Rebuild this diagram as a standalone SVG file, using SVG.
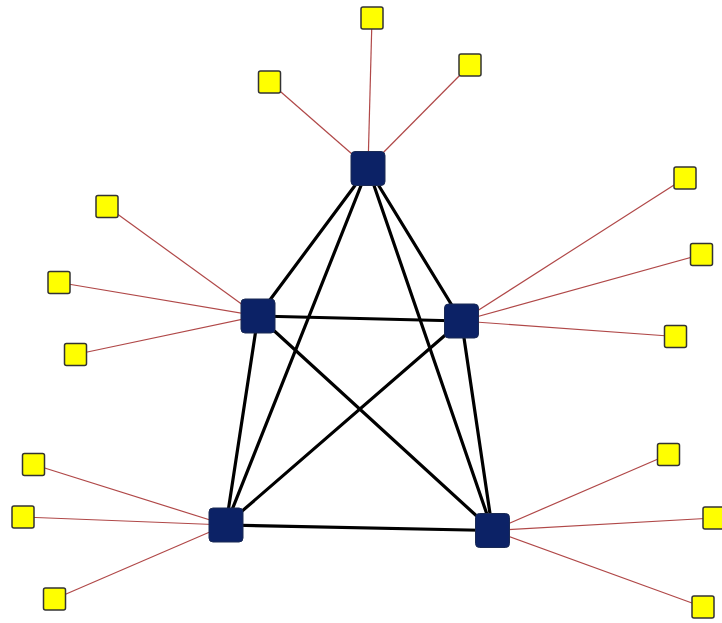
<svg xmlns="http://www.w3.org/2000/svg" width="722" height="623" viewBox="0 0 722 623">
<style>
.hub{fill:#0c2266;stroke:#1a2a55;stroke-width:1}
.leaf{fill:#ffff00;stroke:#333333;stroke-width:1.5}
.thick{stroke:#000000;stroke-width:3.2;fill:none;stroke-linecap:round}
.thin{stroke:#b04848;stroke-width:1.2;fill:none}
</style>
<rect width="722" height="623" fill="#ffffff"/>
<g id="connectors">
<line class="thin" x1="372" y1="18" x2="368" y2="168"/>
<line class="thin" x1="269.5" y1="82" x2="368" y2="168"/>
<line class="thin" x1="470" y1="65" x2="368" y2="168"/>
<line class="thin" x1="107" y1="206.5" x2="258" y2="316"/>
<line class="thin" x1="59" y1="282.5" x2="258" y2="316"/>
<line class="thin" x1="75.5" y1="354.5" x2="258" y2="316"/>
<line class="thin" x1="685" y1="178" x2="461.5" y2="321"/>
<line class="thin" x1="701.5" y1="254.5" x2="461.5" y2="321"/>
<line class="thin" x1="675.5" y1="336.5" x2="461.5" y2="321"/>
<line class="thin" x1="33.5" y1="464.5" x2="226" y2="525"/>
<line class="thin" x1="23" y1="517" x2="226" y2="525"/>
<line class="thin" x1="54.5" y1="599" x2="226" y2="525"/>
<line class="thin" x1="668.5" y1="454.5" x2="492.5" y2="530.5"/>
<line class="thin" x1="714" y1="518" x2="492.5" y2="530.5"/>
<line class="thin" x1="703" y1="607" x2="492.5" y2="530.5"/>
<line class="thick" x1="368" y1="168" x2="258" y2="316"/>
<line class="thick" x1="368" y1="168" x2="461.5" y2="321"/>
<line class="thick" x1="368" y1="168" x2="226" y2="525"/>
<line class="thick" x1="368" y1="168" x2="492.5" y2="530.5"/>
<line class="thick" x1="258" y1="316" x2="461.5" y2="321"/>
<line class="thick" x1="258" y1="316" x2="226" y2="525"/>
<line class="thick" x1="258" y1="316" x2="492.5" y2="530.5"/>
<line class="thick" x1="461.5" y1="321" x2="226" y2="525"/>
<line class="thick" x1="461.5" y1="321" x2="492.5" y2="530.5"/>
<line class="thick" x1="226" y1="525" x2="492.5" y2="530.5"/>
</g>
<g id="hub-top"><rect class="hub" x="351" y="151.5" width="34" height="34" rx="4"/></g>
<g id="hub-left"><rect class="hub" x="241" y="299" width="34" height="34" rx="4"/></g>
<g id="hub-right"><rect class="hub" x="444.5" y="304" width="34" height="34" rx="4"/></g>
<g id="hub-bottom-left"><rect class="hub" x="209" y="508" width="34" height="34" rx="4"/></g>
<g id="hub-bottom-right"><rect class="hub" x="475.5" y="513.5" width="34" height="34" rx="4"/></g>
<g id="leaf-t1"><rect class="leaf" x="361" y="7" width="22" height="22" rx="2"/></g>
<g id="leaf-t2"><rect class="leaf" x="258.5" y="71" width="22" height="22" rx="2"/></g>
<g id="leaf-t3"><rect class="leaf" x="459" y="54" width="22" height="22" rx="2"/></g>
<g id="leaf-l1"><rect class="leaf" x="96" y="195.5" width="22" height="22" rx="2"/></g>
<g id="leaf-l2"><rect class="leaf" x="48" y="271.5" width="22" height="22" rx="2"/></g>
<g id="leaf-l3"><rect class="leaf" x="64.5" y="343.5" width="22" height="22" rx="2"/></g>
<g id="leaf-r1"><rect class="leaf" x="674" y="167" width="22" height="22" rx="2"/></g>
<g id="leaf-r2"><rect class="leaf" x="690.5" y="243.5" width="22" height="22" rx="2"/></g>
<g id="leaf-r3"><rect class="leaf" x="664.5" y="325.5" width="22" height="22" rx="2"/></g>
<g id="leaf-bl1"><rect class="leaf" x="22.5" y="453.5" width="22" height="22" rx="2"/></g>
<g id="leaf-bl2"><rect class="leaf" x="12" y="506" width="22" height="22" rx="2"/></g>
<g id="leaf-bl3"><rect class="leaf" x="43.5" y="588" width="22" height="22" rx="2"/></g>
<g id="leaf-br1"><rect class="leaf" x="657.5" y="443.5" width="22" height="22" rx="2"/></g>
<g id="leaf-br2"><rect class="leaf" x="703" y="507" width="22" height="22" rx="2"/></g>
<g id="leaf-br3"><rect class="leaf" x="692" y="596" width="22" height="22" rx="2"/></g>
</svg>
